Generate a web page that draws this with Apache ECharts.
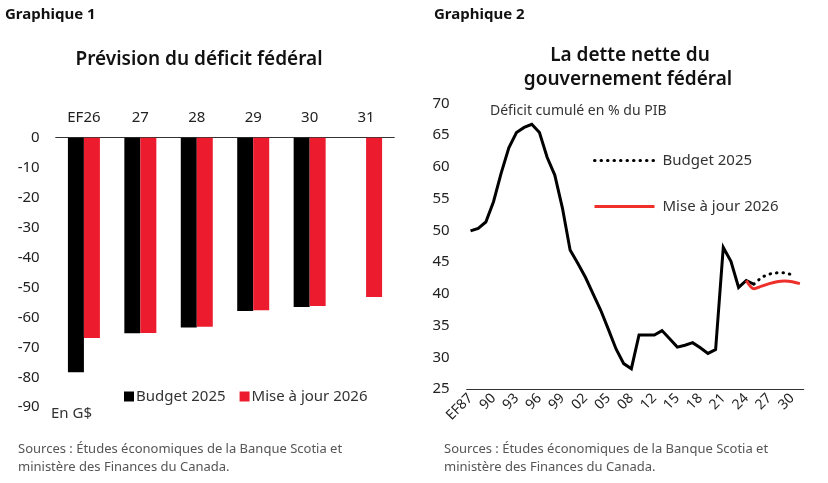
<!DOCTYPE html>
<html><head><meta charset="utf-8">
<script src="https://cdn.jsdelivr.net/npm/echarts@6/dist/echarts.min.js"></script>
<style>html,body{margin:0;padding:0;background:#fff}#c{width:828px;height:483px}</style>
</head><body><div id="c"></div>
<script>
// ---- Graphique 1 data ----
const barCategories = ['EF26', '27', '28', '29', '30', '31'];
const barBudget2025 = [-78.3, -65.3, -63.4, -57.9, -56.5, null];
const barMiseAJour2026 = [-66.9, -65.2, -63.1, -57.6, -56.2, -53.2];

// ---- Graphique 2 data ----
const lineCategories = ['EF87','88','89','90','91','92','93','94','95','96','97','98','99',
  '00','01','02','03','04','05','06','07','08','10','11','12','13','14','15','16','17','18',
  '19','20','21','22','23','24','25','26','27','28','29','30','31'];
const historyYears = ['EF87','88','89','90','91','92','93','94','95','96','97','98','99',
  '00','01','02','03','04','05','06','07','08','10','11','12','13','14','15','16','17','18',
  '19','20','21','22','23','24','25'];
const historyValues = [49.9, 50.3, 51.3, 54.5, 59.0, 63.0, 65.4, 66.2, 66.7, 65.4, 61.5, 58.7, 53.5,
  46.9, 44.8, 42.6, 40.0, 37.4, 34.4, 31.3, 29.0, 28.2, 33.5, 33.5, 33.5, 34.2, 32.9, 31.6, 31.9, 32.3, 31.5,
  30.6, 31.2, 47.3, 45.1, 41.0, 42.1, 41.5];
const budgetYears = ['25','26','27','28','29','30'];
const budgetValues = [41.5, 42.6, 43.1, 43.3, 43.3, 43.0];
const updateYears = ['24','25','26','27','28','29','30','31'];
const updateValues = [42.1, 40.8, 41.2, 41.6, 41.9, 42.0, 41.9, 41.6];

const FONT = 'Noto Sans';
const zip = (a, b) => a.map((c, i) => [c, b[i]]);
const RED_BAR = '#ec1c2e';
const RED_LINE = '#ee2f2a';

const chart = echarts.init(document.getElementById('c'), null, {renderer: 'canvas'});

function txt(text, x, y, size, opts) {
  opts = opts || {};
  return {
    type: 'text', x: x, y: y, silent: true,
    style: {
      text: text,
      fontFamily: FONT,
      fontSize: size,
      fontWeight: opts.weight || 'normal',
      fill: opts.color || '#222',
      align: opts.align || 'left',
      verticalAlign: 'middle'
    }
  };
}

chart.setOption({
  animation: false,
  textStyle: {fontFamily: FONT},
  graphic: [
    txt('Graphique 1', 5, 15, 15, {weight: 'bold', color: '#111'}),
    txt('Graphique 2', 434, 15, 15, {weight: 'bold', color: '#111'}),
    txt('Prévision du déficit fédéral', 199, 60, 19, {weight: 600, color: '#111', align: 'center'}),
    txt('La dette nette du', 630, 56, 19, {weight: 600, color: '#111', align: 'center'}),
    txt('gouvernement fédéral', 628, 80, 19, {weight: 600, color: '#111', align: 'center'}),
    txt('Déficit cumulé en % du PIB', 490, 111, 14, {color: '#333'}),
    txt('En G$', 51, 414, 15, {color: '#333'}),
    txt('Sources : Études économiques de la Banque Scotia et', 18, 449, 13, {color: '#555'}),
    txt('ministère des Finances du Canada.', 18, 467, 13, {color: '#555'}),
    txt('Sources : Études économiques de la Banque Scotia et', 444, 449, 13, {color: '#555'}),
    txt('ministère des Finances du Canada.', 444, 467, 13, {color: '#555'})
  ],
  legend: [
    {
      left: 124, top: 389, padding: 0, icon: 'rect', itemWidth: 10, itemHeight: 10, itemGap: 14,
      textStyle: {fontFamily: FONT, fontSize: 15, color: '#333', padding: [0, 0, 0, -3]},
      data: ['Budget 2025', 'Mise à jour 2026']
    },
    {
      left: 593, top: 153, padding: 0, orient: 'vertical', itemWidth: 60, itemHeight: 14, itemGap: 31,
      itemStyle: {opacity: 0},
      lineStyle: {width: 3},
      textStyle: {fontFamily: FONT, fontSize: 15, color: '#333', padding: [0, 0, 0, 3]},
      data: ['Budget 2025 ', 'Mise à jour 2026 ']
    }
  ],
  grid: [
    {left: 55.7, top: 137.7, width: 338.6, height: 269.5},
    {left: 466.7, top: 103.3, width: 337, height: 285.7}
  ],
  xAxis: [
    {
      gridIndex: 0, type: 'category', data: barCategories, position: 'top',
      axisLine: {lineStyle: {color: '#333', width: 1}},
      axisTick: {length: 5, lineStyle: {color: '#333'}},
      axisLabel: {fontSize: 15, color: '#222', margin: 12}
    },
    {
      gridIndex: 1, type: 'category', data: lineCategories, boundaryGap: true,
      axisLine: {lineStyle: {color: '#333', width: 1.2}},
      axisTick: {length: 5, interval: 2, lineStyle: {color: '#333'}},
      axisLabel: {fontSize: 14, color: '#222', interval: 2, rotate: 45, margin: 7}
    }
  ],
  yAxis: [
    {
      gridIndex: 0, type: 'value', min: -90, max: 0, interval: 10,
      axisLine: {show: false}, axisTick: {show: false}, splitLine: {show: false},
      axisLabel: {fontSize: 15, color: '#222', margin: 16}
    },
    {
      gridIndex: 1, type: 'value', min: 25, max: 70, interval: 5,
      axisLine: {show: false}, axisTick: {show: false}, splitLine: {show: false},
      axisLabel: {fontSize: 15, color: '#222', margin: 17}
    }
  ],
  series: [
    {
      name: 'Budget 2025', type: 'bar', xAxisIndex: 0, yAxisIndex: 0,
      data: barBudget2025, barWidth: 16, barGap: '0%',
      itemStyle: {color: '#000'}
    },
    {
      name: 'Mise à jour 2026', type: 'bar', xAxisIndex: 0, yAxisIndex: 0,
      data: barMiseAJour2026, barWidth: 16, barGap: '0%',
      itemStyle: {color: RED_BAR}
    },
    {
      name: 'Historique', type: 'line', xAxisIndex: 1, yAxisIndex: 1,
      data: zip(historyYears, historyValues), symbol: 'none',
      lineStyle: {color: '#000', width: 3, join: 'miter'}, itemStyle: {color: '#000'}
    },
    {
      name: 'Budget 2025 ', type: 'line', xAxisIndex: 1, yAxisIndex: 1,
      data: zip(budgetYears, budgetValues), symbol: 'none',
      lineStyle: {color: '#000', width: 3, type: [0.5, 6], cap: 'round'}, itemStyle: {color: '#000'}
    },
    {
      name: 'Mise à jour 2026 ', type: 'line', xAxisIndex: 1, yAxisIndex: 1,
      data: zip(updateYears, updateValues), symbol: 'none', smooth: 0.3,
      lineStyle: {color: RED_LINE, width: 3}, itemStyle: {color: RED_LINE}
    }
  ]
});
</script></body></html>
